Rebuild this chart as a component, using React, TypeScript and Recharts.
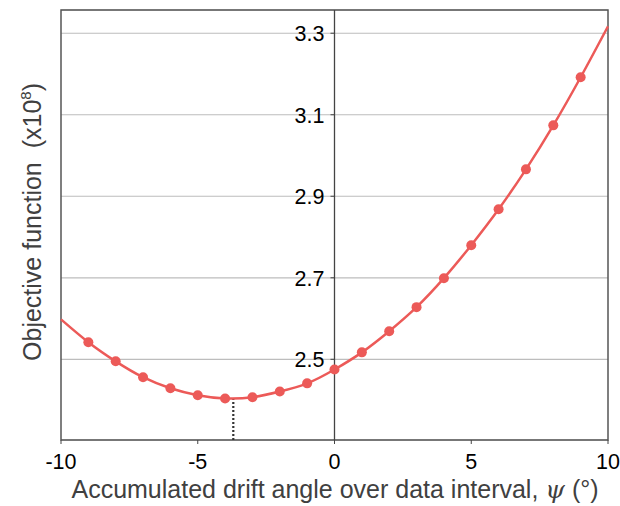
import React from 'react'
import {
  ComposedChart,
  Line,
  XAxis,
  YAxis,
  CartesianGrid,
  ReferenceLine,
  ReferenceArea
} from 'recharts'

// drift angle (deg) and objective function (x1e8)
const angles = [-10, -9, -8, -7, -6, -5, -4, -3, -2, -1, 0, 1, 2, 3, 4, 5, 6, 7, 8, 9, 10]
const objective = [
  2.598, 2.542, 2.495, 2.456, 2.429, 2.412, 2.404, 2.407, 2.421, 2.441, 2.475,
  2.517, 2.569, 2.628, 2.699, 2.78, 2.868, 2.966, 3.074, 3.192, 3.317
]
const xTicks = [-10, -5, 0, 5, 10]
const yTicks = [2.5, 2.7, 2.9, 3.1, 3.3]
const minAngle = -3.7
const minValue = 2.404

const W = 620
const H = 506
const LEFT = 61
const RIGHT = 12
const PLOT_CENTER = LEFT + (W - LEFT - RIGHT) / 2

const data = angles.map((a, i) => ({ angle: a, value: objective[i] }))

const LINE_COLOR = '#ec5a58'
const FONT = 'Liberation Sans, Arial, sans-serif'
const tickStyle = { fontSize: 21.5, fontFamily: FONT }
const labelStyle = { fontSize: 25, fontFamily: FONT }

const YTick = ({ y, payload }: any) => (
  <g>
    <line x1={PLOT_CENTER - 4} x2={PLOT_CENTER} y1={y} y2={y} stroke="#444" />
    <text x={PLOT_CENTER - 10} y={y + 8} textAnchor="end" fill="#000" style={tickStyle}>
      {payload.value}
    </text>
  </g>
)

const XTick = ({ x, y, payload }: any) => (
  <text x={x} y={y + 23} textAnchor="middle" fill="#000" style={tickStyle}>
    {payload.value}
  </text>
)

const Marker = (props: any) => {
  const { cx, cy, index } = props
  if (index === 0 || index === angles.length - 1) return <g key={`m-${index}`} />
  return <circle key={`m-${index}`} cx={cx} cy={cy} r={5} fill={LINE_COLOR} />
}

export default function App() {
  return (
    <div style={{ position: 'absolute', left: 0, top: 0, background: '#fff' }}>
      <ComposedChart
        width={W}
        height={H}
        data={data}
        margin={{ top: 10, right: RIGHT, bottom: 0, left: 0 }}
      >
        <CartesianGrid vertical={false} stroke="#bdbdbd" strokeWidth={1.2} />
        <XAxis
          dataKey="angle"
          type="number"
          domain={[-10, 10]}
          ticks={xTicks}
          height={66}
          axisLine={false}
          tickLine={{ stroke: '#444' }}
          tickSize={4}
          tick={<XTick />}
        />
        <YAxis
          type="number"
          domain={[2.302, 3.357]}
          ticks={yTicks}
          allowDataOverflow
          width={LEFT}
          axisLine={false}
          tickLine={false}
          tick={<YTick />}
        />
        <ReferenceArea
          x1={-10}
          x2={10}
          y1={2.302}
          y2={3.357}
          fill="none"
          stroke="#555"
          strokeWidth={1.5}
          ifOverflow="visible"
        />
        <ReferenceLine x={0} stroke="#444" strokeWidth={1.3} />
        <ReferenceLine
          segment={[
            { x: minAngle, y: 2.302 },
            { x: minAngle, y: minValue }
          ]}
          stroke="#333"
          strokeWidth={2.2}
          strokeDasharray="2 2"
        />
        <Line
          type="natural"
          dataKey="value"
          stroke={LINE_COLOR}
          strokeWidth={2.5}
          dot={Marker}
          activeDot={false}
          isAnimationActive={false}
        />
        <text
          transform="rotate(-90, 41, 222)"
          x={41}
          y={222}
          textAnchor="middle"
          fill="#404040"
          style={labelStyle}
        >
          Objective function{'\u00a0\u00a0'}(x10
          <tspan style={{ fontSize: 15 }} dy={-10}>8</tspan>
          <tspan dy={10}>)</tspan>
        </text>
        <text x={335} y={498} textAnchor="middle" fill="#404040" style={labelStyle}>
          Accumulated drift angle over data interval,{' '}
          <tspan style={{ fontStyle: 'italic', fontFamily: 'DejaVu Serif, serif' }}>ψ</tspan> (°)
        </text>
      </ComposedChart>
    </div>
  )
}
